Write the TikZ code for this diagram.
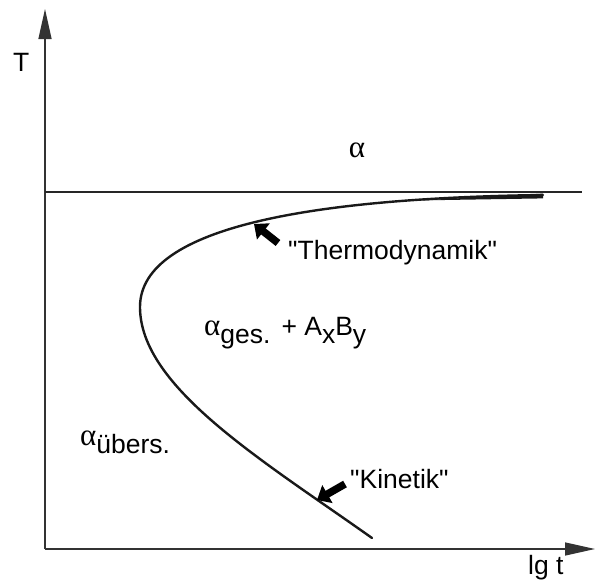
\documentclass[tikz,border=0pt]{standalone}
\usepackage{fontspec}
\setmainfont{Liberation Sans}
\newfontfamily\greekfont{Liberation Serif}
\usetikzlibrary{arrows.meta}
\newcommand{\lowtext}[1]{\raisebox{-8pt}{#1}}
\newcommand{\galpha}{{\fontsize{31}{30}\selectfont\greekfont α}}
\tikzset{
    axis/.style={
        line width=1.4pt, draw=black!80,
        -{Triangle[length=30pt,width=13pt]}
    },
    phaseline/.style={line width=1.6pt, draw=black!85},
    boundary/.style={line width=2.4pt, draw=black!90, line cap=round},
    hint/.style={
        line width=7.5pt, draw=black,
        -{Triangle[length=12pt,width=20pt]}
    },
    lab/.style={font=\fontsize{26.5}{30}\selectfont, inner sep=0pt},
}

\begin{document}
\begin{tikzpicture}[x=1pt, y=-1pt]
\useasboundingbox (0,0) rectangle (595,581);

% axes
\coordinate (origin) at (45,549);
\coordinate (ytip) at (45,9);
\coordinate (xtip) at (595,549);
\draw[axis] (origin) -- (ytip);
\draw[axis] (origin) -- (xtip);

\node[lab, anchor=base west] (tlab) at (13,71) {T};
\node[lab, anchor=base west] (lgt) at (528,574) {lg t};

% solvus line
\coordinate (solvL) at (45,192);
\coordinate (solvR) at (582,192);
\draw[phaseline] (solvL) -- (solvR);

% C-shaped precipitation boundary
\coordinate (cTop) at (543,195);
\coordinate (cNose) at (140,307);
\coordinate (cEnd) at (372,538);
\draw[boundary] (cTop) .. controls (320,198) and (140,225) .. (cNose)
    .. controls (140,387) and (262,460) .. (cEnd);
% thickened tip near the solvus
\fill[black!90] (420,200.4) -- (543,193.6) -- (543,198.4) -- cycle;

% phase labels
\node[lab, anchor=base] (alpha) at (357,157) {\galpha};
\node[lab, anchor=base west] (mixed) at (204,335)
    {\galpha\lowtext{ges.}\hspace{11pt}+ A\lowtext{x}B\lowtext{y}};
\node[lab, anchor=base west] (super) at (80,445)
    {\galpha\lowtext{übers.}};

% regime hints
\node[lab, anchor=base west] (thermo) at (288,259)
    {\textquotedbl Thermodynamik\textquotedbl};
\node[lab, anchor=base west] (kinet) at (350,488)
    {\textquotedbl Kinetik\textquotedbl};
\coordinate (thermoTail) at (278,243);
\coordinate (thermoTip) at (254,224);
\coordinate (kinetTail) at (345,484);
\coordinate (kinetTip) at (317,500);
\draw[hint] (thermoTail) -- (thermoTip);
\draw[hint] (kinetTail) -- (kinetTip);

\end{tikzpicture}
\end{document}
